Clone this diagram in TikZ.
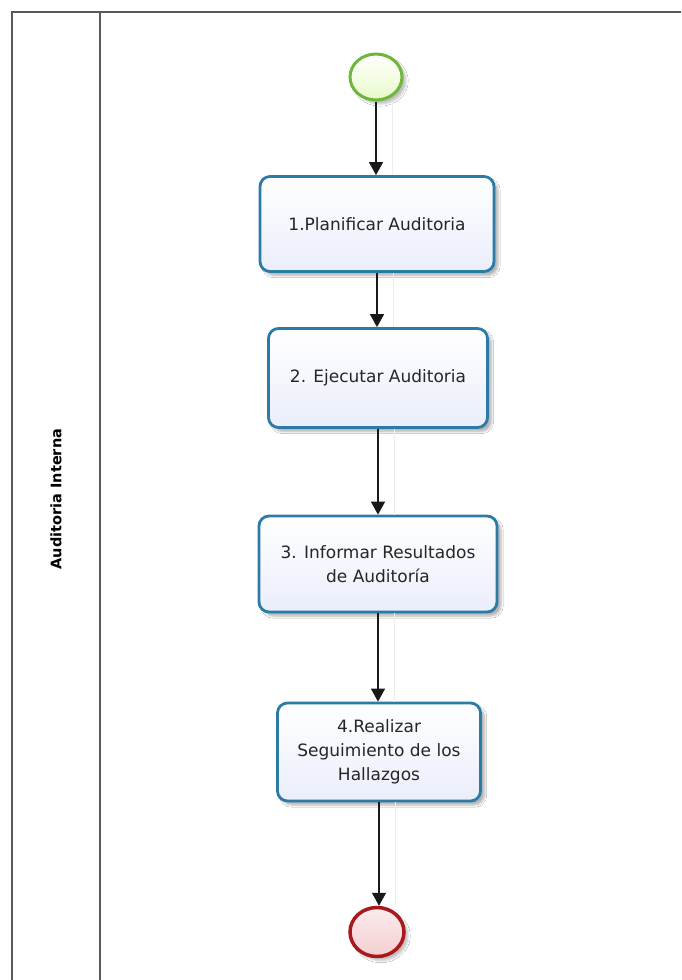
\documentclass[tikz,border=0pt]{standalone}
\usepackage{fontspec}
\setmainfont{DejaVu Sans}
\usetikzlibrary{arrows.meta,shadows.blur,shapes.geometric}
\definecolor{boxline}{RGB}{44,122,166}
\definecolor{boxfill}{RGB}{234,238,251}
\definecolor{startline}{RGB}{110,182,60}
\definecolor{startfill}{RGB}{232,250,200}
\definecolor{endline}{RGB}{168,24,28}
\definecolor{endfill}{RGB}{244,206,209}
\tikzset{
  poolline/.style={draw=black!65, line width=1.8pt},
  task/.style={draw=boxline, line width=2.8pt, rounded corners=10pt,
    top color=white, bottom color=boxfill,
    blur shadow={shadow xshift=4pt, shadow yshift=-4pt, shadow blur steps=6, shadow opacity=30},
    align=center, text=black!85, inner sep=0pt,
    font=\fontsize{17}{24}\selectfont},
  startev/.style={ellipse, draw=startline, line width=3pt, inner sep=0pt,
    minimum width=52pt, minimum height=46pt, top color=white, bottom color=startfill,
    blur shadow={shadow xshift=4pt, shadow yshift=-4pt, shadow blur steps=6, shadow opacity=25}},
  endev/.style={ellipse, draw=endline, line width=3.5pt, inner sep=0pt,
    minimum width=54pt, minimum height=49pt, top color=endfill!40, bottom color=endfill,
    blur shadow={shadow xshift=4pt, shadow yshift=-4pt, shadow blur steps=6, shadow opacity=25}},
  flow/.style={draw=black!90, line width=1.4pt, -{Triangle[width=14pt,length=13pt]},
    preaction={-, draw=black!7, line width=1pt, transform canvas={xshift=16pt}}},
  lanelabel/.style={rotate=90, font=\bfseries\fontsize{14.5}{16}\selectfont, text=black}
}
\begin{document}
\begin{tikzpicture}[x=1pt, y=-1pt]
\useasboundingbox (0,0) rectangle (681,980);
\clip (0,0) rectangle (681,980);
\fill[white] (0,0) rectangle (681,980);
% pool and lane
\draw[poolline] (12,12) rectangle (720,1020);
\draw[poolline] (100,12) -- (100,1020);
\node[lanelabel] (lane) at (56,499) {Auditoria Interna};
% events and tasks
\node[startev] (s) at (376,77) {};
\node[task, minimum width=234pt, minimum height=95pt] (t1) at (377,224) {1.Planificar Auditoria};
\node[task, minimum width=219pt, minimum height=99pt] (t2) at (378,378) {2. Ejecutar Auditoria};
\node[task, minimum width=238pt, minimum height=96pt] (t3) at (378,564) {3. Informar Resultados\\de Auditoría};
\node[task, minimum width=203pt, minimum height=98pt] (t4) at (379,752) {4.Realizar\\Seguimiento de los\\Hallazgos};
\node[endev] (e) at (377,932) {};
% flows
\draw[flow] (s.south) -- (s.south |- t1.north);
\draw[flow] (t1.south) -- (t1.south |- t2.north);
\draw[flow] (t2.south) -- (t2.south |- t3.north);
\draw[flow] (t3.south) -- (t3.south |- t4.north);
\draw[flow] (t4.south) -- (t4.south |- e.north);
\end{tikzpicture}
\end{document}
